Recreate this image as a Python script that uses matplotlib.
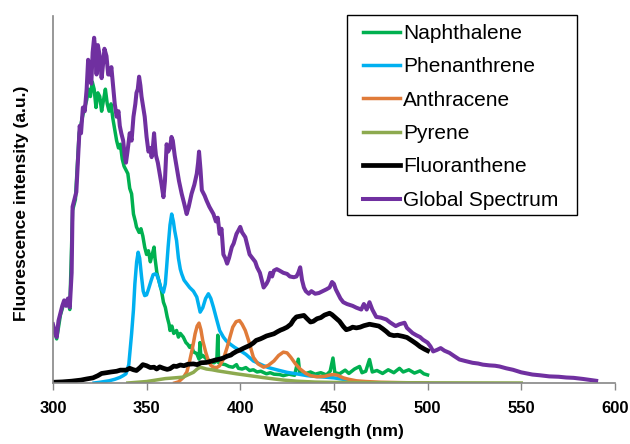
import matplotlib
matplotlib.use("Agg")
import matplotlib.pyplot as plt
from matplotlib.patches import Rectangle

plt.rcParams['font.family'] = ['Liberation Sans', 'DejaVu Sans']

# Naphthalene
naph_x = [300, 302, 304, 306, 308, 309, 310.5, 312, 314, 316, 318, 319, 320, 321, 322, 323, 324, 325,
          326, 327, 328, 329, 330, 331, 332, 333, 334, 335, 336, 337, 338, 339, 340, 341, 342, 343,
          344, 344.6, 346, 347, 348, 349, 350, 351, 352, 353, 354, 354.5, 355.5, 357, 358, 359, 360,
          361, 362, 362.5, 363.5, 364.5, 366, 367, 368, 369.6, 371, 372, 373, 374, 375, 376.8, 378,
          378.5, 379, 380, 382, 384, 386, 387.5, 388, 388.5, 390, 392, 394, 396, 398, 399, 401, 403,
          405, 407, 409, 411, 414, 416, 418, 421, 423, 426, 429, 431, 431.8, 434, 437.5, 440, 443,
          446, 448, 449.5, 450.5, 453, 456, 458, 461, 463.7, 465, 467, 469, 470.5, 473, 476, 479,
          482, 485, 487, 490, 493, 496, 498, 500]
naph_y = [15.5, 12, 18.5, 22, 22.5, 20, 47, 50, 68, 73, 77, 80, 78, 82, 80, 75, 79, 78,
          74, 77, 80, 76, 74, 76, 72, 69, 66, 64, 65, 61, 59, 58, 57, 53, 51.5, 46,
          44, 42.5, 41, 42, 40, 37, 35, 36, 33, 35, 37, 34, 30, 27, 25, 22, 20.6,
          18, 16, 14.3, 15.5, 13.5, 14.3, 12.5, 13.5, 12.5, 11, 10.5, 9.7, 10.2, 8.5, 8, 6.5,
          11, 7, 7.5, 6.5, 6, 5.5, 6, 13, 5.5, 5.2, 5, 4.5, 4.3, 5, 4, 3.8, 4.2,
          3.4, 3.6, 3, 3.2, 2.5, 2.8, 2.4, 2.3, 2, 2.4, 2.1, 6.5, 2.5, 2.4, 3, 2.4, 2.8,
          2.2, 3.2, 6.8, 2.8, 2.5, 3.5, 2.6, 3.8, 4.5, 2.8, 3.2, 6.4, 3, 3.4, 2.6, 3.6,
          2.8, 4, 3, 3.6, 2.7, 3.3, 2.5, 2.2]

# Phenanthrene
phen_x = [322, 325, 330, 333, 335.7, 337.5, 339, 340.5, 342, 343, 343.75, 344.7, 345.5, 346.3, 347.3,
          348.2, 349, 350, 351, 352.5, 353.5, 354.5, 355.4, 356.5, 357.5, 359, 360, 360.7, 361.5,
          362.5, 363.4, 364.3, 365, 366, 367, 368, 368.75, 370, 371.5, 373, 375, 376.8, 378.6, 380,
          381.5, 383, 384.3, 385.7, 387.3, 389, 391, 392.5, 394.6, 397, 400, 403, 407, 410, 412.5,
          415, 418, 421, 425, 430, 435.7, 440, 445, 450, 455, 460, 465]
phen_y = [0, 0.2, 0.6, 1, 1.5, 2, 2.5, 5, 13.4, 20, 27, 33, 35.6, 34, 29,
          25, 23.8, 24, 25.5, 28, 29.5, 29.7, 29.5, 28, 26, 24.7, 27, 31.5, 37,
          43, 46, 44, 41.5, 38.8, 34, 31, 29.7, 28, 27, 26, 25, 23.4, 19.3, 20.5,
          23, 24.3, 23, 20.6, 17.5, 14.3, 12.5, 11.5, 10.6, 9.7, 8.8, 7.8, 6, 5.3, 4.7,
          4.2, 3.8, 3.4, 2.9, 2.5, 2, 1.8, 1.6, 1.4, 1, 0.5, 0.2]

# Anthracene
anth_x = [365, 367, 369.6, 371.5, 373, 374.5, 375.9, 377, 378, 379, 380, 381.5, 383, 384.3, 385.7,
          387.5, 389, 391, 393, 394.5, 396, 397.8, 399.6, 401, 402.7, 404.5, 407, 409.5, 412.5, 415,
          418, 420.5, 423, 425, 427, 429.5, 432, 435, 437.5, 441, 445, 448, 450, 452, 455, 458, 462,
          467, 475, 485, 500]
anth_y = [0, 0.3, 1.5, 3, 6, 9.5, 13.4, 15.5, 16.3, 14.5, 11.5, 8.5, 6, 4.8, 4.3,
          4.2, 4.7, 6.5, 9.7, 12.5, 15.2, 16.7, 17, 16, 14.3, 11.5, 7, 5.2, 4.3, 4.8,
          6, 7.5, 8.4, 8.2, 7, 5.2, 3.8, 2.6, 2, 1.7, 1.8, 2.2, 2.3, 2.1, 1.4, 1, 0.6,
          0.4, 0.2, 0.1, 0]

# Pyrene
pyr_x = [340, 345, 350, 355, 360, 365, 369.6, 372, 375, 377, 378.6, 380, 382, 385, 388, 393, 398,
         405, 412, 418, 423, 430, 440, 450, 470, 500, 550]
pyr_y = [0, 0.2, 0.4, 0.8, 1.2, 1.4, 1.6, 2.2, 2.9, 3.8, 4.3, 4.1, 3.8, 3.6, 3.3, 2.9, 2.5,
         2, 1.5, 1.1, 0.8, 0.5, 0.25, 0.15, 0.1, 0.05, 0]

# Fluoranthene
flu_x = [300, 305, 310, 315, 318, 321.4, 324, 326, 328.6, 331, 334, 336, 339, 341, 343, 344.6, 346.5,
         348, 350, 352, 354, 355.4, 357, 359, 361, 362.5, 364.5, 366, 368, 370, 372, 375, 377, 379,
         382, 385, 387, 389, 391, 393, 395, 396, 398, 400, 401.5, 403.6, 405, 407, 408.5, 410.7, 412,
         414, 416, 418, 420, 421.5, 423, 425, 427, 428.5, 430, 432, 434, 435.5, 437.5, 439, 441, 443,
         445, 447.7, 449, 451, 453, 455, 456.6, 458.5, 460, 462, 464, 466, 469, 471, 474, 476, 478,
         479.7, 482, 484, 486.8, 489, 492, 494, 496, 498.4, 500]
flu_y = [0.2, 0.3, 0.5, 0.8, 1.1, 1.4, 2, 2.6, 2.8, 3, 3.2, 3.5, 3.5, 4, 3.6, 3.4, 4.2,
         5, 4.7, 4.2, 4.3, 3.8, 4.4, 4, 3.7, 3.9, 4.6, 4.5, 4.9, 4.7, 5.1, 5.2, 5, 5.5,
         5.6, 6, 6.3, 6.5, 6.8, 7.3, 7.6, 8, 8.6, 9, 9.4, 9.9, 10.2, 10.9, 11.6, 12, 12.3,
         12.8, 13.1, 13.4, 14, 14.4, 14.7, 15.2, 16, 17.2, 18, 18.2, 18.4, 17.6, 16.6, 16.8, 17.5, 17.8,
         18.5, 19, 18.6, 17.7, 16.8, 15.4, 14.5, 14.8, 15.2, 15, 15.2, 15.6, 16, 15.8, 15.5, 14.8, 14,
         13.2, 12.9, 13, 12.7, 12.4, 11.4, 10.7, 9.9, 9.2, 8.8]

# Global Spectrum
glob_x = [300, 301, 302, 303, 304, 305, 306, 307, 308, 309, 310, 310.5, 311.5, 312.5, 313.5, 314.3,
          315, 316, 317, 318, 318.8, 319.5, 320.5, 321.2, 322, 322.7, 323.3, 324, 325, 326, 326.8,
          327.5, 328.6, 329.5, 330.4, 331.2, 332, 333, 334, 335, 335.7, 336.5, 337.5, 338.3, 339,
          339.8, 341, 342, 343, 344, 344.6, 345.3, 346, 346.7, 347.3, 348.2, 349, 350, 351, 352,
          352.7, 353.5, 354, 354.6, 355, 356, 357, 358, 359, 359.8, 360.7, 361.5, 362.5, 363.3, 364,
          365, 366, 367.3, 368.75, 370, 371.4, 372.5, 374, 375.5, 376.8, 377.5, 378, 378.8, 379.5,
          381, 382, 383.5, 385.7, 387, 388, 389, 390, 391, 392, 393, 394, 395.5, 396.5, 398, 399,
          400, 401, 402.7, 404, 405, 406.5, 408, 409, 410.5, 411.5, 412.5, 414, 415, 416, 417, 418,
          419.5, 421, 423, 425, 426.5, 428.6, 430, 431, 432, 433, 434, 435, 436.6, 438, 440, 442, 444,
          446, 447.7, 449, 450, 451, 452, 453.5, 455, 457, 460, 462, 464.6, 466, 467.5, 469, 470.5,
          472.6, 475, 478, 480, 483, 485, 487.7, 489, 492, 494, 496, 497.5, 500, 501.5, 503, 505,
          507, 509, 511.7, 514, 517, 520, 524, 527, 529.5, 533, 536, 538.4, 542, 545.6, 550, 553,
          556, 560, 565, 570, 574, 578, 583, 587, 590]
glob_y = [16, 14, 12.5, 17, 19, 21, 22.5, 21, 23, 20.6, 30, 48, 50, 52, 62, 70,
          68, 75, 74, 80, 88, 83, 81.5, 90, 94, 90, 84, 92, 89, 83, 87,
          91, 89, 84, 84, 86, 81.5, 76, 72.5, 74, 70, 68, 66, 62, 60,
          63, 68, 66, 72.5, 76, 79, 80, 83.4, 81, 78, 75, 72.5, 67, 63, 64,
          61.5, 65, 68, 64, 62, 60, 57, 54, 50.6, 55, 65, 63, 64, 67, 66,
          62, 59, 55, 51.5, 49, 46, 48, 51.5, 54, 57, 60, 63, 58, 52.5,
          51, 49.7, 48, 46, 44, 45, 40.6, 42, 35, 34, 32.5, 34, 37, 38, 40.6, 41.5,
          42.5, 41, 39.7, 37, 35, 34, 33, 31.5, 30, 28, 26, 27, 28, 30, 29, 30.6,
          31, 30.6, 30, 29.7, 29, 28.8, 29, 30, 31.5, 28, 26, 25, 24.3, 25, 24.3, 24.5, 25,
          25.5, 26, 27.5, 27, 25.5, 24.5, 23, 22, 21.5, 21, 20.5, 20, 21.5, 20, 22, 20,
          18, 17.8, 17.3, 16.5, 15.5, 16, 16.4, 15, 13.6, 13, 12.5, 11.8, 11, 10, 8.6, 9,
          9.5, 8.8, 8.2, 7.4, 6.4, 6, 5.5, 5.3, 5, 4.8, 4.7, 4.5, 4, 3.6, 2.9, 2.6,
          2.3, 2.1, 1.8, 1.7, 1.5, 1.4, 1.1, 0.8, 0.6]

fig = plt.figure(figsize=(6.3, 4.44), dpi=100)
ax = fig.add_axes([0.084, 0.1374, 0.892, 0.8272])

ax.plot(naph_x, naph_y, color='#00B050', lw=2.5, label='Naphthalene')
ax.plot(phen_x, phen_y, color='#00B0F0', lw=2.5, label='Phenanthrene')
ax.plot(anth_x, anth_y, color='#E07B39', lw=2.5, label='Anthracene')
ax.plot(pyr_x, pyr_y, color='#8DAA4F', lw=2.5, label='Pyrene')
ax.plot(flu_x, flu_y, color='black', lw=3.4, label='Fluoranthene')
ax.plot(glob_x, glob_y, color='#7030A0', lw=2.9, label='Global Spectrum')

ax.set_xlim(300, 600)
ax.set_ylim(0, 100)
ax.set_xticks([300, 350, 400, 450, 500, 550, 600])
ax.set_yticks([])
for lab in ax.get_xticklabels():
    lab.set_fontweight('bold')
ax.tick_params(axis='x', direction='out', length=5, width=1, color='#868686',
               labelsize=12, pad=8)

for s in ['top', 'right']:
    ax.spines[s].set_visible(False)
for s in ['left', 'bottom']:
    ax.spines[s].set_color('#868686')
    ax.spines[s].set_linewidth(1.2)

ax.set_xlabel('Wavelength (nm)', fontsize=12.5, fontweight='bold')
ax.set_ylabel('Fluorescence intensity (a.u.)', fontsize=12.5, fontweight='bold')
ax.xaxis.set_label_coords(0.5, -0.113)
ax.yaxis.set_label_coords(-0.042, 0.49)

# legend frame drawn separately so the padding matches
ax.add_patch(Rectangle((347 / 630, 1 - 215 / 444), 230 / 630, 200 / 444,
                       transform=fig.transFigure, facecolor='white',
                       edgecolor='black', lw=1, zorder=4, clip_on=False))
leg = ax.legend(loc='upper left', bbox_to_anchor=(363 / 630, 1 - 24 / 444),
                bbox_transform=fig.transFigure, fontsize=15, frameon=False,
                handlelength=1.78, handletextpad=0.15, labelspacing=0.69,
                borderpad=0, borderaxespad=0)
leg.set_zorder(5)

fig.savefig('out.png', dpi=100)
